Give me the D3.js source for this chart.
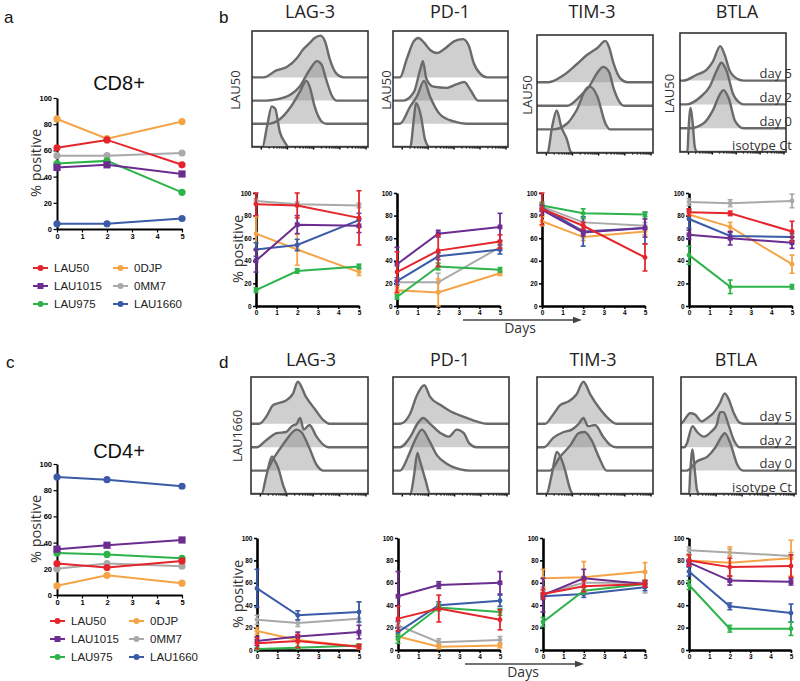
<!DOCTYPE html>
<html>
<head>
<meta charset="utf-8">
<script src="https://cdn.jsdelivr.net/npm/d3@7"></script>
<style>body{margin:0;background:#fff}</style>
</head>
<body>
<div id="fig"></div>
<script>
(function () {

    // ---- data ----
    var days = [0, 2, 5];
    var yTicks = [0, 20, 40, 60, 80, 100];
    var patients = ["LAU50", "LAU1015", "LAU975", "0DJP", "0MM7", "LAU1660"];
    var patientColors = ["#e4262c", "#6b2d8f", "#2db34a", "#f4a447", "#a9a9a9", "#3b5aa7"];
    var markers = ["LAG-3", "PD-1", "TIM-3", "BTLA"];
    var histRows = ["isotype Ct", "day 0", "day 2", "day 5"];

    // % positive, one row per patient (same order as patients)
    var cd8Values = [[62, 68, 49], [47, 49, 42], [50, 52, 28], [84, 69, 82], [56, 56, 58], [4, 4, 8]];
    var cd4Values = [[24, 21, 26], [35, 38, 42], [32, 31, 28], [7, 15, 9], [20, 24, 22], [90, 88, 83]];

    var lau50LAG3 = [[90, 89, 78], [40, 72, 71], [14, 31, 35], [64, 50, 30], [93, 90, 89], [50, 54, 76]];
    var lau50LAG3Err = [[10, 11, 24], [10, 8, 6], [2, 2, 2], [15, 14, 3], [2, 2, 2], [6, 5, 6]];
    var lau50PD1 = [[30, 49, 57], [37, 64, 70], [8, 35, 32], [14, 12, 29], [21, 21, 52], [22, 44, 50]];
    var lau50PD1Err = [[18, 14, 6], [15, 3, 12], [2, 3, 2], [3, 12, 2], [2, 8, 3], [3, 3, 4]];
    var lau50TIM3 = [[86, 71, 43], [85, 65, 69], [89, 82, 81], [75, 61, 66], [88, 74, 71], [87, 66, 69]];
    var lau50TIM3Err = [[14, 3, 12], [4, 3, 8], [3, 4, 2], [4, 3, 3], [3, 3, 3], [3, 13, 14]];
    var lau50BTLA = [[83, 82, 66], [63, 60, 56], [45, 17, 17], [81, 70, 37], [92, 91, 93], [77, 62, 61]];
    var lau50BTLAErr = [[3, 2, 9], [4, 6, 5], [8, 6, 2], [3, 4, 8], [3, 3, 6], [8, 3, 3]];

    var lau1660LAG3 = [[6, 8, 3], [8, 12, 16], [1, 2, 4], [17, 9, 3], [27, 24, 28], [55, 31, 34]];
    var lau1660LAG3Err = [[5, 6, 2], [4, 4, 6], [1, 1, 1], [3, 3, 2], [4, 3, 15], [17, 4, 9]];
    var lau1660PD1 = [[28, 37, 27], [48, 58, 60], [10, 38, 34], [12, 3, 4], [22, 7, 9], [16, 40, 44]];
    var lau1660PD1Err = [[11, 12, 9], [22, 3, 10], [4, 3, 3], [3, 2, 2], [3, 3, 3], [4, 3, 5]];
    var lau1660TIM3 = [[50, 57, 59], [49, 64, 59], [25, 53, 59], [64, 65, 70], [50, 60, 60], [48, 50, 56]];
    var lau1660TIM3Err = [[4, 5, 3], [15, 8, 3], [4, 3, 3], [8, 14, 8], [3, 3, 9], [3, 3, 3]];
    var lau1660BTLA = [[80, 74, 75], [78, 62, 61], [58, 19, 19], [80, 78, 82], [89, 87, 84], [70, 39, 33]];
    var lau1660BTLAErr = [[5, 8, 10], [3, 4, 3], [4, 3, 6], [4, 14, 16], [3, 3, 3], [4, 3, 8]];

    // histogram outlines: [position % of axis, height % of box], rows isotype, day 0, day 2, day 5
    var lau50LAG3Hist = [
        [[9, 0], [13, 18], [17, 35], [20, 33], [24, 13], [29, 3], [31, 0]],
        [[13, 0], [24, 4], [33, 14], [41, 27], [47, 37], [50, 31], [54, 15], [60, 2], [64, 0]],
        [[12, 0], [21, 1], [33, 5], [41, 12], [50, 27], [56, 34], [60, 31], [64, 18], [69, 4], [73, 0]],
        [[10, 0], [21, 6], [30, 9], [39, 17], [44, 24], [50, 30], [54, 34], [59, 36], [63, 31], [67, 16], [73, 3], [79, 0]]];
    var lau50PD1Hist = [
        [[15, 0], [18, 23], [20, 38], [24, 28], [28, 6], [32, 0]],
        [[6, 0], [15, 15], [21, 24], [27, 37], [32, 24], [41, 8], [53, 2], [64, 0]],
        [[9, 0], [18, 7], [24, 28], [26, 34], [29, 19], [35, 12], [47, 11], [55, 14], [62, 16], [68, 8], [74, 0]],
        [[6, 0], [12, 16], [18, 31], [22, 34], [27, 30], [32, 24], [38, 21], [44, 24], [53, 31], [61, 33], [66, 27], [70, 13], [76, 3], [82, 0]]];
    var lau50TIM3Hist = [
        [[9, 0], [13, 22], [17, 36], [21, 22], [26, 11], [29, 1], [31, 0]],
        [[14, 0], [26, 5], [34, 16], [43, 35], [46, 36], [52, 28], [59, 5], [63, 0]],
        [[26, 0], [37, 8], [46, 18], [52, 28], [57, 33], [62, 29], [66, 15], [72, 2], [75, 0]],
        [[10, 0], [23, 6], [34, 15], [43, 23], [52, 29], [59, 35], [62, 30], [66, 16], [72, 3], [78, 0]]];
    var lau50BTLAHist = [
        [[7, 0], [8, 18], [10, 37], [12, 24], [14, 4], [16, 0]],
        [[9, 0], [22, 4], [31, 15], [38, 29], [41, 32], [46, 25], [52, 6], [60, 0]],
        [[6, 0], [19, 6], [28, 15], [35, 29], [39, 35], [44, 28], [50, 9], [57, 1], [60, 0]],
        [[3, 0], [16, 5], [25, 9], [31, 16], [38, 29], [42, 22], [47, 8], [55, 1], [60, 0]]];

    var lau1660LAG3Hist = [
        [[9, 0], [13, 15], [18, 32], [20, 29], [23, 23], [28, 6], [31, 0]],
        [[13, 0], [19, 10], [23, 16], [30, 26], [39, 35], [43, 33], [50, 19], [56, 5], [62, 0]],
        [[5, 0], [13, 6], [22, 12], [30, 13], [35, 18], [39, 20], [42, 25], [45, 15], [50, 19], [56, 9], [62, 2], [66, 0]],
        [[7, 0], [13, 6], [19, 16], [25, 18], [30, 20], [36, 26], [40, 36], [47, 23], [55, 12], [62, 3], [67, 0]]];
    var lau1660PD1Hist = [
        [[15, 0], [18, 15], [21, 35], [23, 29], [28, 12], [32, 0]],
        [[6, 0], [13, 12], [19, 26], [25, 35], [31, 26], [38, 13], [46, 6], [58, 1], [66, 0]],
        [[6, 0], [15, 9], [21, 20], [26, 25], [32, 20], [41, 12], [48, 9], [55, 15], [61, 12], [66, 3], [72, 0]],
        [[6, 0], [15, 9], [20, 23], [27, 33], [32, 23], [41, 16], [49, 11], [61, 6], [72, 2], [81, 0]]];
    var lau1660TIM3Hist = [
        [[8, 0], [13, 18], [17, 36], [21, 30], [24, 21], [29, 3], [31, 0]],
        [[11, 0], [20, 12], [29, 22], [36, 32], [41, 33], [47, 26], [54, 10], [60, 0]],
        [[6, 0], [14, 8], [23, 13], [30, 15], [36, 20], [40, 25], [44, 18], [50, 19], [57, 9], [63, 2], [68, 0]],
        [[7, 0], [14, 8], [20, 16], [27, 19], [34, 25], [40, 36], [46, 25], [54, 13], [61, 5], [69, 0]]];
    var lau1660BTLAHist = [
        [[7, 0], [8, 18], [10, 38], [12, 20], [14, 3], [16, 0]],
        [[5, 0], [14, 8], [23, 12], [30, 20], [36, 30], [38, 32], [43, 23], [49, 5], [54, 0]],
        [[3, 0], [5, 3], [10, 18], [14, 13], [20, 9], [26, 13], [31, 19], [34, 30], [37, 30], [41, 20], [46, 6], [51, 0]],
        [[0, 0], [2, 2], [8, 9], [12, 8], [18, 2], [23, 5], [28, 9], [34, 18], [38, 26], [41, 22], [46, 9], [51, 1], [55, 0]]];

    // ---- drawing ----
    var fontSans = "'Liberation Sans', Arial, sans-serif";
    var fontHum = "'Open Sans', sans-serif";
    var drawOrder = [4, 3, 5, 2, 1, 0];

    var svg = d3.select("#fig").append("svg")
        .attr("width", 800).attr("height", 681)
        .style("display", "block");
    svg.append("rect").attr("width", 800).attr("height", 681).attr("fill", "#fff");

    var text = function (x, y, s, size, o) {
        o = o || {};
        var t = svg.append("text")
            .attr("x", x).attr("y", y)
            .attr("font-family", o.family || fontHum)
            .attr("font-size", size)
            .attr("fill", o.fill || "#222")
            .attr("text-anchor", o.anchor || "start")
            .text(s);
        if (o.rotate) t.attr("transform", "rotate(-90," + x + "," + y + ")");
        return t;
    };

    var lineChart = function (box, vals, errs, o) {
        var x = d3.scaleLinear().domain([0, 5]).range([box.x0, box.x1]);
        var y = d3.scaleLinear().domain([0, 100]).range([box.y0, box.y1]);
        var g = svg.append("g");

        g.append("g").attr("transform", "translate(" + box.x0 + ",0)")
            .call(d3.axisLeft(y).tickValues(yTicks).tickSize(o.tick).tickSizeOuter(0).tickPadding(1.5));
        g.append("g").attr("transform", "translate(0," + box.y0 + ")")
            .call(d3.axisBottom(x).ticks(5).tickFormat(d3.format("d")).tickSize(o.tick).tickSizeOuter(0).tickPadding(1.5));
        g.selectAll(".domain").attr("stroke", "#000").attr("stroke-width", o.axisW);
        g.selectAll(".tick line").attr("stroke", "#000").attr("stroke-width", o.axisW * 0.6);
        g.selectAll(".tick text").attr("font-family", fontSans).attr("font-weight", "bold")
            .attr("font-size", o.font).attr("fill", "#000");

        var line = d3.line()
            .x(function (d, j) { return x(days[j]); })
            .y(function (d) { return y(d); });

        drawOrder.forEach(function (i) {
            var c = patientColors[i], sg = g.append("g");
            sg.append("path").attr("d", line(vals[i]))
                .attr("fill", "none").attr("stroke", c).attr("stroke-width", o.lineW);
            if (errs) {
                errs[i].forEach(function (e, j) {
                    var cx = x(days[j]), lo = y(vals[i][j] - e), hi = y(vals[i][j] + e);
                    sg.append("line").attr("x1", cx).attr("x2", cx).attr("y1", lo).attr("y2", hi)
                        .attr("stroke", c).attr("stroke-width", 1.8);
                    [lo, hi].forEach(function (yy) {
                        sg.append("line").attr("x1", cx - 2.5).attr("x2", cx + 2.5).attr("y1", yy).attr("y2", yy)
                            .attr("stroke", c).attr("stroke-width", 1.6);
                    });
                });
            }
            vals[i].forEach(function (v, j) {
                if (i === 1) {
                    sg.append("rect").attr("x", x(days[j]) - o.r).attr("y", y(v) - o.r)
                        .attr("width", o.r * 2).attr("height", o.r * 2).attr("fill", c);
                } else {
                    sg.append("circle").attr("cx", x(days[j])).attr("cy", y(v)).attr("r", o.r).attr("fill", c);
                }
            });
        });
    };

    var legend = function (x0, x1, y0) {
        patients.forEach(function (p, i) {
            var col = Math.floor(i / 3), row = i % 3;
            var mx = col ? x1 : x0, yy = y0 + row * 18 - 4;
            svg.append("line").attr("x1", mx).attr("x2", mx + 15).attr("y1", yy).attr("y2", yy)
                .attr("stroke", patientColors[i]).attr("stroke-width", 2);
            if (i === 1) {
                svg.append("rect").attr("x", mx + 4.5).attr("y", yy - 3).attr("width", 6).attr("height", 6).attr("fill", patientColors[i]);
            } else {
                svg.append("circle").attr("cx", mx + 7.5).attr("cy", yy).attr("r", 3).attr("fill", patientColors[i]);
            }
            text(mx + 21, y0 + row * 18, p, 11.5, {family: fontSans, fill: "#222"});
        });
    };

    var histPanel = function (box, curves, withDays) {
        var hx = d3.scaleLinear().domain([0, 100]).range([box[0], box[2]]);
        var H = box[3] - box[1];
        var hy = d3.scaleLinear().domain([0, 100]).range([0, H]);
        var step = H / 5;
        var id = "clip" + Math.round(box[0]) + "_" + Math.round(box[1]);
        svg.append("clipPath").attr("id", id).append("rect")
            .attr("x", box[0]).attr("y", box[1]).attr("width", box[2] - box[0]).attr("height", H);
        var g = svg.append("g").attr("clip-path", "url(#" + id + ")");

        var shapes = curves.map(function (pts, k) {
            var base = box[3] - k * step;
            return {base: base, pts: [[0, 0]].concat(pts, [[100, 0]])};
        });
        shapes.forEach(function (s) {
            var area = d3.area().curve(d3.curveMonotoneX)
                .x(function (d) { return hx(d[0]); })
                .y0(s.base).y1(function (d) { return s.base - hy(d[1]); });
            g.append("path").attr("d", area(s.pts)).attr("fill", "#808080").attr("fill-opacity", 0.38);
        });
        shapes.forEach(function (s) {
            var ln = d3.line().curve(d3.curveMonotoneX)
                .x(function (d) { return hx(d[0]); })
                .y(function (d) { return s.base - hy(d[1]); });
            g.append("path").attr("d", ln(s.pts)).attr("fill", "none")
                .attr("stroke", "#6a6a6a").attr("stroke-width", 2.4).attr("stroke-linejoin", "round");
        });

        // log-like bottom ticks
        var lx = d3.scaleLog().domain([10, 1e5]).range([box[0] + (box[2] - box[0]) * 0.08, box[2] - 2]);
        svg.append("g").selectAll("line").data(lx.ticks()).enter().append("line")
            .attr("x1", function (d) { return lx(d); }).attr("x2", function (d) { return lx(d); })
            .attr("y1", box[3]).attr("y2", function (d) {
                return box[3] + (Math.abs(Math.log10(d) % 1) < 1e-6 ? 2.5 : 1.5);
            })
            .attr("stroke", "#000").attr("stroke-width", 1.4);

        svg.append("rect").attr("x", box[0]).attr("y", box[1])
            .attr("width", box[2] - box[0]).attr("height", H)
            .attr("fill", "none").attr("stroke", "#333").attr("stroke-width", 1.6);

        if (withDays) {
            histRows.forEach(function (r, k) {
                text(792, box[3] - k * step - 2.5, r, 13, {anchor: "end", fill: "#333"});
            });
        }
    };

    var arrow = function (x0, x1, y, tx, ty) {
        svg.append("line").attr("x1", x0).attr("x2", x1 - 7).attr("y1", y).attr("y2", y)
            .attr("stroke", "#444").attr("stroke-width", 1.4);
        svg.append("path").attr("d", "M" + x1 + "," + y + "L" + (x1 - 9) + "," + (y - 3.2) + "L" + (x1 - 9) + "," + (y + 3.2) + "Z")
            .attr("fill", "#444");
        text(tx, ty, "Days", 14, {anchor: "middle", fill: "#333"});
    };

    // panel letters
    text(4, 23, "a", 17, {family: fontSans, fill: "#111"});
    text(219, 23, "b", 17, {family: fontSans, fill: "#111"});
    text(6, 368, "c", 17, {family: fontSans, fill: "#111"});
    text(219, 368, "d", 17, {family: fontSans, fill: "#111"});

    // ---- a: CD8+ ----
    var bigOpt = {tick: 3.5, axisW: 2, font: 7.5, lineW: 2, r: 3.6};
    text(119, 90, "CD8+", 20, {family: fontSans, anchor: "middle", fill: "#111"});
    lineChart({x0: 57, x1: 182, y0: 229, y1: 98}, cd8Values, null, bigOpt);
    text(41, 163, "% positive", 14.5, {anchor: "middle", rotate: true, fill: "#333"});
    legend(33, 113, 272);

    // ---- c: CD4+ ----
    text(119, 458, "CD4+", 20, {family: fontSans, anchor: "middle", fill: "#111"});
    lineChart({x0: 57, x1: 182, y0: 595, y1: 464}, cd4Values, null, bigOpt);
    text(41, 529, "% positive", 14.5, {anchor: "middle", rotate: true, fill: "#333"});
    legend(50, 129, 625);

    // ---- b: LAU50 ----
    var smallOpt = {tick: 3, axisW: 2.6, font: 6.5, lineW: 2, r: 2.4};
    var bTitleX = [310, 450, 592, 737];
    var bBoxes = [[252, 31, 368, 147], [393, 31, 508, 147], [537, 35, 653, 153], [680, 33, 786, 152]];
    var bLabelX = [240, 391, 532, 674];
    var bHists = [lau50LAG3Hist, lau50PD1Hist, lau50TIM3Hist, lau50BTLAHist];
    var bLines = [[lau50LAG3, lau50LAG3Err], [lau50PD1, lau50PD1Err], [lau50TIM3, lau50TIM3Err], [lau50BTLA, lau50BTLAErr]];
    var bChartX = [256, 397, 542, 689];

    markers.forEach(function (m, k) {
        text(bTitleX[k], 18, m, 18, {anchor: "middle", fill: "#222"});
        histPanel(bBoxes[k], bHists[k], k === 3);
        text(bLabelX[k], (bBoxes[k][1] + bBoxes[k][3]) / 2 + 1, "LAU50", 13, {anchor: "middle", rotate: true, fill: "#333"});
        lineChart({x0: bChartX[k], x1: bChartX[k] + 103, y0: 306, y1: 193}, bLines[k][0], bLines[k][1], smallOpt);
    });
    text(243, 249, "% positive", 14.5, {anchor: "middle", rotate: true, fill: "#333"});
    arrow(463, 582, 320, 520, 333);

    // ---- d: LAU1660 ----
    var dTitleX = [311, 450, 593, 736];
    var dBoxes = [[251, 377, 368, 494], [393, 377, 509, 494], [537, 377, 653, 494], [681, 377, 796, 494]];
    var dHists = [lau1660LAG3Hist, lau1660PD1Hist, lau1660TIM3Hist, lau1660BTLAHist];
    var dLines = [[lau1660LAG3, lau1660LAG3Err], [lau1660PD1, lau1660PD1Err], [lau1660TIM3, lau1660TIM3Err], [lau1660BTLA, lau1660BTLAErr]];
    var dChartX = [257, 398, 543, 689];

    markers.forEach(function (m, k) {
        text(dTitleX[k], 366, m, 18, {anchor: "middle", fill: "#222"});
        histPanel(dBoxes[k], dHists[k], k === 3);
        lineChart({x0: dChartX[k], x1: dChartX[k] + 102, y0: 650, y1: 538}, dLines[k][0], dLines[k][1], smallOpt);
    });
    text(242, 436, "LAU1660", 12.5, {anchor: "middle", rotate: true, fill: "#333"});
    text(243, 594, "% positive", 14.5, {anchor: "middle", rotate: true, fill: "#333"});
    arrow(465, 584, 664, 523, 677);

})();
</script>
</body>
</html>
